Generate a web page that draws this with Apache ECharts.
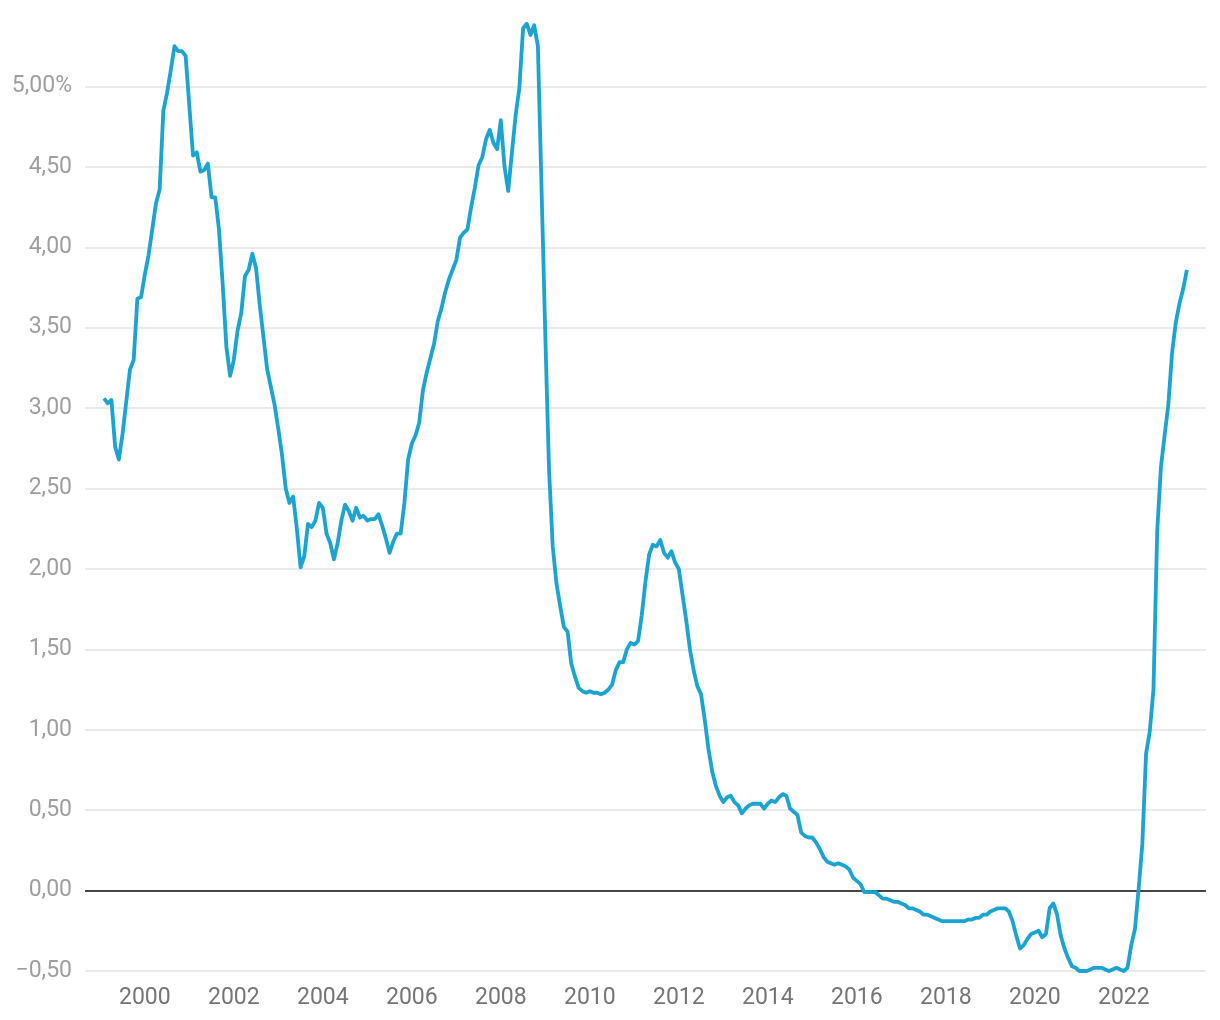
<!DOCTYPE html>
<html>
<head>
<meta charset="utf-8">
<script src="https://cdn.jsdelivr.net/npm/echarts@6/dist/echarts.min.js"></script>
<style>
  html, body { margin: 0; padding: 0; background: #ffffff; }
  #chart { width: 1220px; height: 1020px; }
</style>
</head>
<body>
<div id="chart"></div>
<script>
// Monthly 12-month rate (%), Jan 1999 – May 2023 (points dated at month end)
const startYear = 1999;
const values = [
  // 1999
  3.06, 3.03, 3.05, 2.76, 2.68, 2.84, 3.04, 3.24, 3.30, 3.68, 3.69, 3.83,
  // 2000
  3.95, 4.11, 4.27, 4.36, 4.85, 4.96, 5.10, 5.25, 5.22, 5.22, 5.19, 4.88,
  // 2001
  4.57, 4.59, 4.47, 4.48, 4.52, 4.31, 4.31, 4.11, 3.77, 3.38, 3.20, 3.30,
  // 2002
  3.48, 3.59, 3.82, 3.86, 3.96, 3.87, 3.64, 3.44, 3.24, 3.13, 3.02, 2.87,
  // 2003
  2.71, 2.50, 2.41, 2.45, 2.25, 2.01, 2.08, 2.28, 2.26, 2.30, 2.41, 2.38,
  // 2004
  2.22, 2.16, 2.06, 2.16, 2.30, 2.40, 2.36, 2.30, 2.38, 2.32, 2.33, 2.30,
  // 2005
  2.31, 2.31, 2.34, 2.27, 2.19, 2.10, 2.17, 2.22, 2.22, 2.41, 2.68, 2.78,
  // 2006
  2.83, 2.91, 3.11, 3.22, 3.31, 3.40, 3.54, 3.62, 3.72, 3.80, 3.86, 3.92,
  // 2007
  4.06, 4.09, 4.11, 4.25, 4.37, 4.51, 4.56, 4.67, 4.73, 4.65, 4.61, 4.79,
  // 2008
  4.50, 4.35, 4.59, 4.82, 4.99, 5.36, 5.39, 5.32, 5.38, 5.25, 4.35, 3.45,
  // 2009
  2.62, 2.14, 1.91, 1.77, 1.64, 1.61, 1.41, 1.33, 1.26, 1.24, 1.23, 1.24,
  // 2010
  1.23, 1.23, 1.22, 1.23, 1.25, 1.28, 1.37, 1.42, 1.42, 1.50, 1.54, 1.53,
  // 2011
  1.55, 1.71, 1.92, 2.09, 2.15, 2.14, 2.18, 2.10, 2.07, 2.11, 2.04, 2.00,
  // 2012
  1.84, 1.68, 1.50, 1.37, 1.27, 1.22, 1.06, 0.88, 0.74, 0.65, 0.59, 0.55,
  // 2013
  0.58, 0.59, 0.55, 0.53, 0.48, 0.51, 0.53, 0.54, 0.54, 0.54, 0.51, 0.54,
  // 2014
  0.56, 0.55, 0.58, 0.60, 0.59, 0.51, 0.49, 0.47, 0.36, 0.34, 0.33, 0.33,
  // 2015
  0.30, 0.26, 0.21, 0.18, 0.17, 0.16, 0.17, 0.16, 0.15, 0.13, 0.08, 0.06,
  // 2016
  0.04, -0.01, -0.01, -0.01, -0.01, -0.03, -0.05, -0.05, -0.06, -0.07, -0.07, -0.08,
  // 2017
  -0.09, -0.11, -0.11, -0.12, -0.13, -0.15, -0.15, -0.16, -0.17, -0.18, -0.19, -0.19,
  // 2018
  -0.19, -0.19, -0.19, -0.19, -0.19, -0.18, -0.18, -0.17, -0.17, -0.15, -0.15, -0.13,
  // 2019
  -0.12, -0.11, -0.11, -0.11, -0.13, -0.19, -0.28, -0.36, -0.34, -0.30, -0.27, -0.26,
  // 2020
  -0.25, -0.29, -0.27, -0.11, -0.08, -0.15, -0.28, -0.36, -0.42, -0.47, -0.48, -0.50,
  // 2021
  -0.50, -0.50, -0.49, -0.48, -0.48, -0.48, -0.49, -0.50, -0.49, -0.48, -0.49, -0.50,
  // 2022
  -0.48, -0.34, -0.24, 0.01, 0.29, 0.85, 0.99, 1.25, 2.23, 2.63, 2.83, 3.02,
  // 2023
  3.34, 3.53, 3.65, 3.74, 3.86
];
const yearTicks = [2000, 2002, 2004, 2006, 2008, 2010, 2012, 2014, 2016, 2018, 2020, 2022];

const seriesData = values.map((v, i) => [startYear + (i + 1) / 12, v]);

const chart = echarts.init(document.getElementById('chart'), null, { renderer: 'canvas' });

function fmtY(v) {
  const r = Math.round(v * 100) / 100;
  let s = Math.abs(r).toFixed(2).replace('.', ',');
  if (r < 0) s = '\u2212' + s;
  if (Math.abs(r - 5) < 1e-9) s += '%';
  return s;
}

chart.setOption({
  animation: false,
  backgroundColor: '#ffffff',
  grid: { left: 85, right: 14, top: 6, bottom: 49, containLabel: false },
  xAxis: {
    type: 'value',
    min: 1998.656,
    max: 2023.847,
    axisLine: { show: false, onZero: false },
    axisTick: { show: false },
    splitLine: { show: false },
    axisLabel: {
      customValues: yearTicks,
      formatter: v => String(Math.round(v)),
      color: '#757575',
      fontFamily: 'Roboto',
      fontSize: 23,
      margin: 16
    }
  },
  yAxis: {
    type: 'value',
    min: -0.5,
    max: 5.5,
    interval: 0.5,
    axisLine: { show: false },
    axisTick: { show: false },
    splitLine: { show: true, showMaxLine: false, lineStyle: { color: '#e3e3e3', width: 1.5 } },
    axisLabel: {
      showMaxLabel: false,
      formatter: fmtY,
      color: '#9e9e9e',
      fontFamily: 'Roboto',
      fontSize: 23,
      margin: 13
    }
  },
  series: [{
    type: 'line',
    data: seriesData,
    showSymbol: false,
    symbol: 'none',
    lineStyle: { color: '#1ba3d1', width: 3.8, join: 'round' },
    z: 3,
    markLine: {
      silent: true,
      symbol: 'none',
      label: { show: false },
      lineStyle: { color: '#111111', width: 1.5, type: 'solid' },
      data: [{ yAxis: 0 }],
      z: 2
    }
  }]
});
</script>
</body>
</html>
